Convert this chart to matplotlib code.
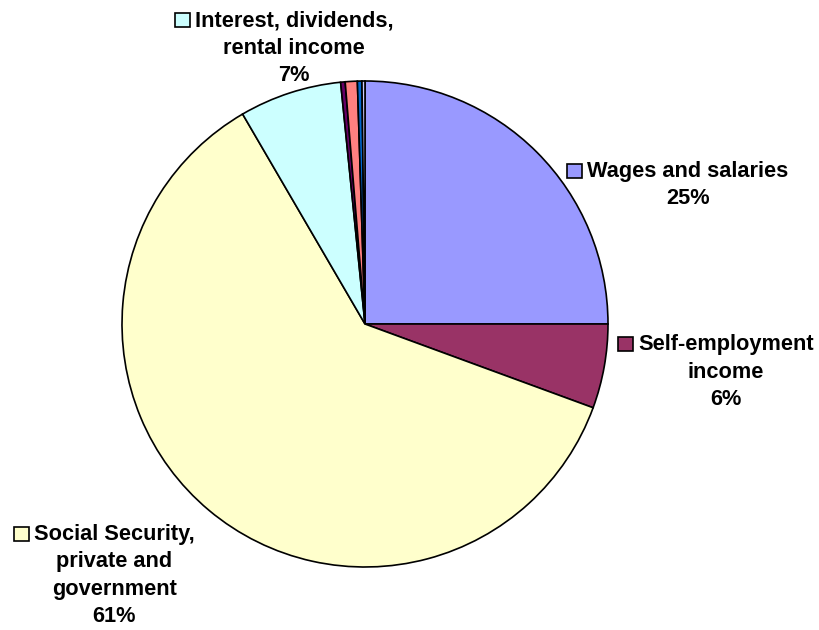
import matplotlib.pyplot as plt
from matplotlib.patches import Rectangle

plt.rcParams['font.family'] = ['Liberation Sans', 'DejaVu Sans']

# income shares (%), clockwise from 12 o'clock
sources = ['Wages and salaries', 'Self-employment income',
           'Social Security, private and government',
           'Interest, dividends, rental income',
           'Other 1', 'Other 2', 'Other 3', 'Other 4']
shares = [25.0, 5.6, 61.0, 6.8, 0.3, 0.8, 0.3, 0.2]
colors = ['#9999FF', '#993366', '#FFFFCC', '#CCFFFF',
          '#660066', '#FF8080', '#0066CC', '#CCCCFF']

H = 630
fig = plt.figure(figsize=(8.2, 6.3), dpi=100)
ax = fig.add_axes([0, 0, 1, 1])
ax.pie(shares, colors=colors, startangle=90, counterclock=False,
       center=(365, H - 324), radius=243,
       wedgeprops=dict(edgecolor='black', linewidth=1.2))
ax.set_xlim(0, 820)
ax.set_ylim(0, H)
ax.set_aspect('equal')
ax.axis('off')

renderer = fig.canvas.get_renderer()


def label(key_x, base_y, lines, color):
    # key square, then first line; following lines centred under it
    first = ax.text(key_x + 20, H - base_y, lines[0], ha='left', va='baseline',
                    fontsize=15.7, fontweight='bold')
    bb = first.get_window_extent(renderer)
    xc = (bb.x0 + bb.x1) / 2
    for i, line in enumerate(lines[1:], start=1):
        ax.text(xc, H - (base_y + 27.5 * i), line, ha='center', va='baseline',
                fontsize=15.7, fontweight='bold')
    ax.add_patch(Rectangle((key_x, H - base_y - 1), 15, 14, facecolor=color,
                           edgecolor='black', linewidth=1.2))


pct = [f'{round(s)}%' for s in shares]
label(175, 26, ['Interest, dividends,', 'rental income', pct[3]], colors[3])
label(567, 177, ['Wages and salaries', pct[0]], colors[0])
label(618, 350, ['Self-employment', 'income', pct[1]], colors[1])
label(14, 540, ['Social Security,', 'private and', 'government', pct[2]],
      colors[2])

fig.savefig('out.png', dpi=100)
